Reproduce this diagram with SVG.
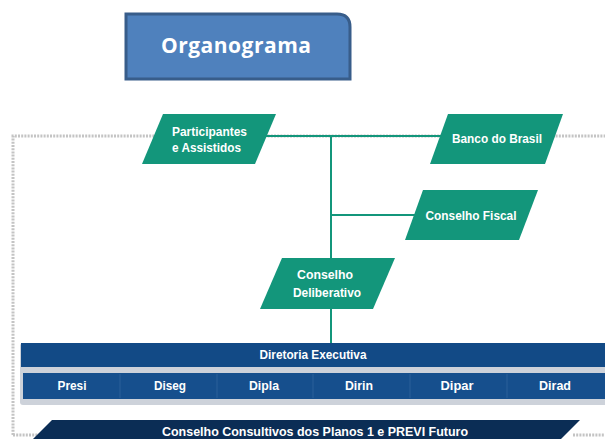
<svg xmlns="http://www.w3.org/2000/svg" width="605" height="439" viewBox="0 0 605 439">
<style>
.frame{fill:none;stroke:#c4c4c4;stroke-width:3;stroke-dasharray:2 1.2}
.conn{fill:none;stroke:#13967B;stroke-width:2}
.node{fill:#13967B}
.nt{font-family:"Liberation Sans",Arial,sans-serif;font-weight:bold;font-size:13.5px;fill:#fff}
.bt{font-family:"Liberation Sans",Arial,sans-serif;font-weight:bold;font-size:12.5px;fill:#fff;text-anchor:middle}
</style>
<rect width="605" height="439" fill="#fff"/>
<g id="frame">
<path class="frame" d="M13,435 V136 H605"/>
<path class="frame" d="M13,435 H45 M573,435 H605"/>
</g>
<g id="title">
<path d="M126,14 H337 Q350,14 350,27 V79 H126 Z" fill="#4F81BD" stroke="#385D8A" stroke-width="3"/>
<text x="236" y="53" text-anchor="middle" font-family="'Open Sans','Liberation Sans',sans-serif" font-weight="bold" font-size="21" fill="#fff" textLength="150">Organograma</text>
</g>
<g id="connectors">
<path class="conn" d="M265,136 H448"/>
<path class="conn" d="M331,136 V343"/>
<path class="conn" d="M331,215 H421"/>
</g>
<g id="participantes">
<polygon class="node" points="163,114 276,114 255,164 142,164"/>
<text class="nt" x="172" y="136" textLength="75" lengthAdjust="spacingAndGlyphs">Participantes</text>
<text class="nt" x="172" y="152" textLength="69" lengthAdjust="spacingAndGlyphs">e Assistidos</text>
</g>
<g id="banco">
<polygon class="node" points="448,114 563,114 545,164 430,164"/>
<text class="nt" x="497" y="143" text-anchor="middle" textLength="90" lengthAdjust="spacingAndGlyphs">Banco do Brasil</text>
</g>
<g id="fiscal">
<polygon class="node" points="423,190 538,190 519,240 405,240"/>
<text class="nt" x="471" y="220" text-anchor="middle" textLength="91" lengthAdjust="spacingAndGlyphs">Conselho Fiscal</text>
</g>
<g id="deliberativo">
<polygon class="node" points="282,258 395,258 373,309 260,309"/>
<text class="nt" x="325" y="279" text-anchor="middle" textLength="56" lengthAdjust="spacingAndGlyphs">Conselho</text>
<text class="nt" x="327" y="297" text-anchor="middle" textLength="68" lengthAdjust="spacingAndGlyphs">Deliberativo</text>
</g>
<g id="diretoria">
<rect x="20" y="343" width="600" height="62" rx="3" fill="#cdd2da"/>
<rect x="21" y="343" width="584" height="24" fill="#124A86"/>
<text class="bt" x="313" y="359" textLength="107" lengthAdjust="spacingAndGlyphs">Diretoria Executiva</text>
<rect x="23" y="373" width="582" height="26" fill="#164F8D"/>
<g stroke="#2B6099" stroke-width="1">
<line x1="120" y1="374" x2="120" y2="398"/>
<line x1="217" y1="374" x2="217" y2="398"/>
<line x1="313" y1="374" x2="313" y2="398"/>
<line x1="410" y1="374" x2="410" y2="398"/>
<line x1="507" y1="374" x2="507" y2="398"/>
</g>
<text class="bt" x="72" y="390" textLength="29" lengthAdjust="spacingAndGlyphs">Presi</text>
<text class="bt" x="170" y="390" textLength="32" lengthAdjust="spacingAndGlyphs">Diseg</text>
<text class="bt" x="264" y="390" textLength="30" lengthAdjust="spacingAndGlyphs">Dipla</text>
<text class="bt" x="359" y="390" textLength="28" lengthAdjust="spacingAndGlyphs">Dirin</text>
<text class="bt" x="457" y="390" textLength="33" lengthAdjust="spacingAndGlyphs">Dipar</text>
<text class="bt" x="555" y="390" textLength="32" lengthAdjust="spacingAndGlyphs">Dirad</text>
</g>
<g id="consultivos">
<polygon points="52,420 580,420 561,439 33,439" fill="#0B2D55"/>
<text class="bt" x="315" y="436" textLength="306" lengthAdjust="spacingAndGlyphs">Conselho Consultivos dos Planos 1 e PREVI Futuro</text>
</g>
</svg>
